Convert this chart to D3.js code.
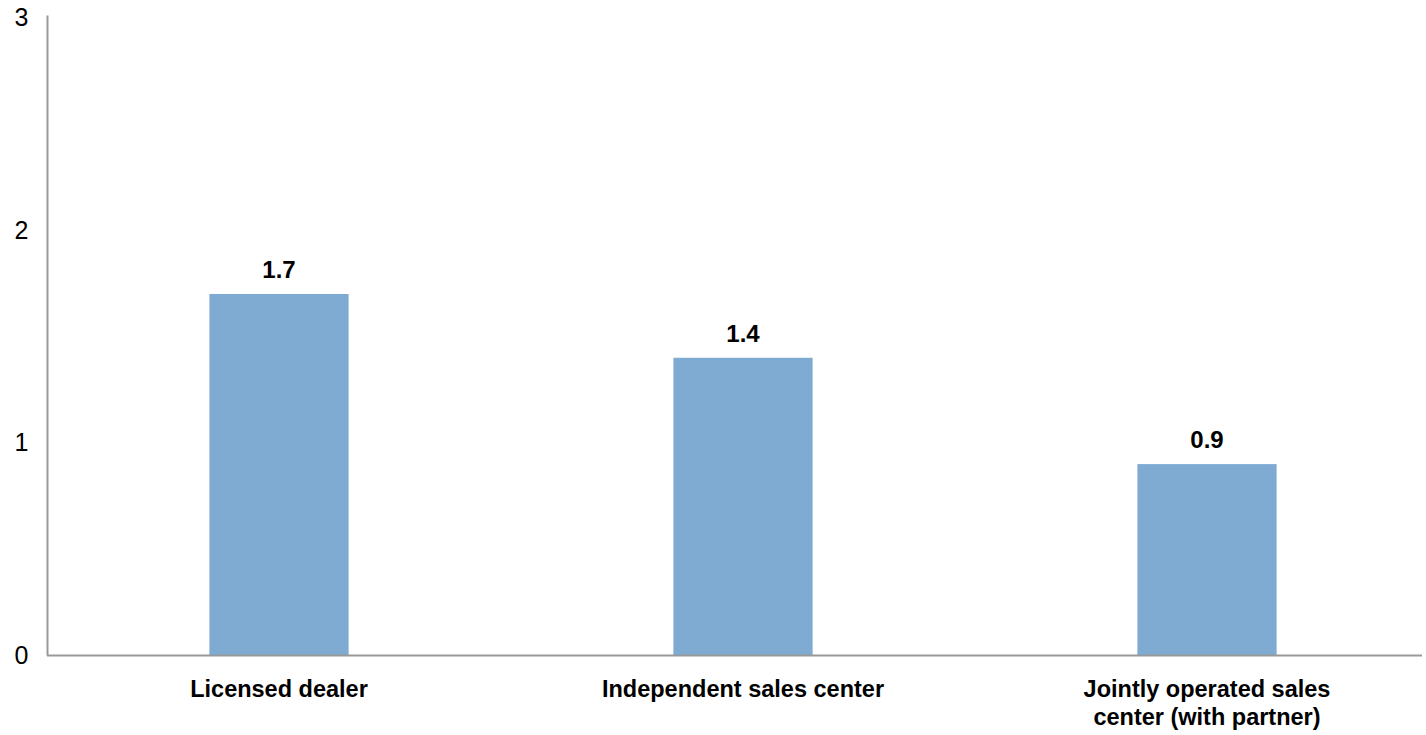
<!DOCTYPE html>
<html>
<head>
<meta charset="utf-8">
<script src="https://cdn.jsdelivr.net/npm/d3@7"></script>
<style>
  body { margin: 0; background: #fff; }
  svg { display: block; }
</style>
</head>
<body>
<svg id="chart" width="1426" height="735"></svg>
<script>
// chart data
const categories = ["Licensed dealer", "Independent sales center", "Jointly operated sales center (with partner)"];
const categoryLines = [["Licensed dealer"], ["Independent sales center"], ["Jointly operated sales", "center (with partner)"]];
const values = [1.7, 1.4, 0.9];
const yTicks = [0, 1, 2, 3];

const svg = d3.select("#chart");

const x = d3.scaleBand()
    .domain(categories)
    .range([47, 1439])
    .paddingInner(0.7)
    .paddingOuter(0.35);

const y = d3.scaleLinear()
    .domain([0, 3])
    .range([655.5, 17.5]);

// bars
svg.append("g")
  .selectAll("rect")
  .data(values)
  .join("rect")
    .attr("x", (d, i) => x(categories[i]))
    .attr("y", d => y(d))
    .attr("width", x.bandwidth())
    .attr("height", d => y(0) - y(d))
    .attr("fill", "#7faad1");

// value labels
svg.append("g")
  .selectAll("text")
  .data(values)
  .join("text")
    .attr("x", (d, i) => x(categories[i]) + x.bandwidth() / 2)
    .attr("y", d => y(d) - 16)
    .attr("text-anchor", "middle")
    .attr("font-family", "Liberation Sans, Arial, sans-serif")
    .attr("font-weight", "bold")
    .attr("font-size", 24)
    .attr("fill", "#000")
    .text(d => d.toFixed(1));

// y axis
const yAxis = svg.append("g")
    .attr("transform", "translate(47.5,0)")
    .call(d3.axisLeft(y).tickValues(yTicks).tickSize(0).tickFormat(d3.format("d")));
yAxis.select(".domain").attr("stroke", "#999").attr("stroke-width", 2).attr("d", `M0,${y(3) - 2}V${y(0)}`);
yAxis.selectAll("text")
    .attr("font-family", "Liberation Sans, Arial, sans-serif")
    .attr("font-size", 25)
    .attr("fill", "#000")
    .attr("text-anchor", "start")
    .attr("x", -33);

// x axis
const xAxis = svg.append("g")
    .attr("transform", `translate(0,${y(0)})`)
    .call(d3.axisBottom(x).tickSize(0).tickFormat(""));
xAxis.select(".domain").attr("stroke", "#999").attr("stroke-width", 2).attr("d", "M47,0H1422");

// category labels
const catLabels = svg.append("g")
  .selectAll("text")
  .data(categories)
  .join("text")
    .attr("x", d => x(d) + x.bandwidth() / 2)
    .attr("y", 697)
    .attr("text-anchor", "middle")
    .attr("font-family", "Liberation Sans, Arial, sans-serif")
    .attr("font-weight", "bold")
    .attr("font-size", 23.5)
    .attr("fill", "#000");

catLabels.selectAll("tspan")
  .data((d, i) => categoryLines[i])
  .join("tspan")
    .attr("x", function() { return this.parentNode.getAttribute("x"); })
    .attr("dy", (d, i) => i === 0 ? 0 : 28)
    .text(d => d);
</script>
</body>
</html>
